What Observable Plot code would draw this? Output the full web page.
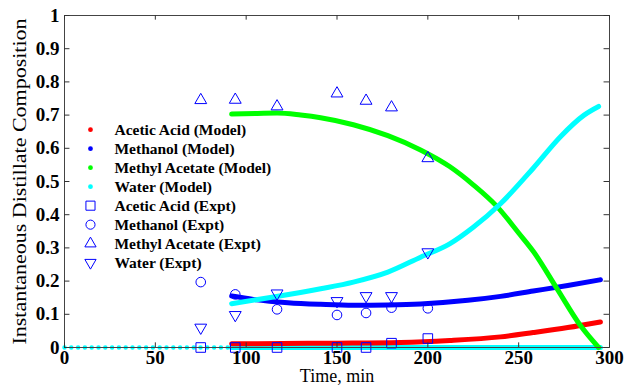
<!DOCTYPE html>
<html>
<head>
<meta charset="utf-8">
<script src="https://cdn.jsdelivr.net/npm/d3@7"></script>
<script src="https://cdn.jsdelivr.net/npm/@observablehq/plot@0.6"></script>
<style>
  html, body { margin: 0; padding: 0; background: #fff; }
  #chart { width: 625px; height: 385px; }
  #chart svg text { font-family: "Liberation Serif", "Times New Roman", serif; }
</style>
</head>
<body>
<div id="chart"></div>
<script>
// ---- Data ----
const xTicks = [0, 50, 100, 150, 200, 250, 300];
const yTicks = [0, 0.1, 0.2, 0.3, 0.4, 0.5, 0.6, 0.7, 0.8, 0.9, 1];

// Model curves (time, min / mole fraction)
const aceticModelT = [92, 120, 150, 185, 212, 240, 258, 277, 295];
const aceticModelV = [0.011, 0.012, 0.013, 0.015, 0.021, 0.032, 0.045, 0.060, 0.077];

const methanolModelT = [92, 104, 123, 141, 159, 178, 196, 222, 240, 258, 277, 295];
const methanolModelV = [0.155, 0.145, 0.135, 0.130, 0.127, 0.128, 0.131, 0.142, 0.154, 0.170, 0.187, 0.204];

const methylAcetateModelT = [92, 105, 117, 130, 141, 159, 178, 196, 212, 225, 238, 250, 258, 271, 284, 294];
const methylAcetateModelV = [0.703, 0.705, 0.706, 0.700, 0.692, 0.671, 0.638, 0.595, 0.545, 0.490, 0.425, 0.345, 0.290, 0.178, 0.066, 0.0];

const waterModelT = [92, 115, 141, 159, 178, 196, 212, 225, 240, 258, 273, 286, 294];
const waterModelV = [0.132, 0.152, 0.177, 0.197, 0.227, 0.272, 0.312, 0.362, 0.433, 0.540, 0.635, 0.700, 0.726];

// Water model trace at zero (before and during distillate draw)
const waterZeroDottedT = [0, 92];
const waterZeroDottedV = [0, 0];
const waterZeroSolidT = [92, 295];
const waterZeroSolidV = [0, 0];

// Experimental points
const exptT = [75, 94, 117, 150, 166, 180, 200];
const aceticExpt = [0, 0, 0, 0, 0, 0.013, 0.027];
const methanolExpt = [0.197, 0.160, 0.115, 0.098, 0.104, 0.120, 0.118];
const methylAcetateExpt = [0.745, 0.746, 0.726, 0.765, 0.743, 0.723, 0.570];
const waterExpt = [0.060, 0.098, 0.163, 0.140, 0.155, 0.155, 0.287];

// Legend
const modelLabels = ["Acetic Acid (Model)", "Methanol (Model)", "Methyl Acetate (Model)", "Water (Model)"];
const modelColors = ["#ff0000", "#0000ff", "#00ff00", "#00ffff"];
const exptLabels = ["Acetic Acid (Expt)", "Methanol (Expt)", "Methyl Acetate (Expt)", "Water (Expt)"];

// ---- Helpers ----
const FONT = "Liberation Serif";
const zip = (ts, vs) => ts.map((t, i) => ({t, v: vs[i]}));
const sqrt3 = Math.sqrt(3);
const triangleDown = {
  draw(context, size) {
    const y = -Math.sqrt(size / (sqrt3 * 3));
    context.moveTo(0, -y * 2);
    context.lineTo(-sqrt3 * y, y);
    context.lineTo(sqrt3 * y, y);
    context.closePath();
  }
};
const exptSymbols = ["square", "circle", "triangle", triangleDown];
const exptRadius = [5.4, 4.8, 4.4, 4.4];
const exptSeries = [aceticExpt, methanolExpt, methylAcetateExpt, waterExpt];

const lineW = 5;
const marks = [];

// cyan zero trace
marks.push(Plot.line(zip(waterZeroDottedT, waterZeroDottedV), {x: "t", y: "v", stroke: "#00ffff", strokeWidth: 4.5, strokeDasharray: "0 6.8", strokeLinecap: "round"}));
marks.push(Plot.line(zip(waterZeroSolidT, waterZeroSolidV), {x: "t", y: "v", stroke: "#00ffff", strokeWidth: lineW}));

const models = [
  [aceticModelT, aceticModelV, modelColors[0]],
  [methanolModelT, methanolModelV, modelColors[1]],
  [methylAcetateModelT, methylAcetateModelV, modelColors[2]],
  [waterModelT, waterModelV, modelColors[3]]
];
for (const [ts, vs, c] of models) {
  marks.push(Plot.line(zip(ts, vs), {x: "t", y: "v", stroke: c, strokeWidth: lineW, curve: "monotone-x"}));
}

exptSeries.forEach((vals, i) => {
  marks.push(Plot.dot(zip(exptT, vals), {x: "t", y: "v", symbol: () => exptSymbols[i], r: exptRadius[i], stroke: "#0000ff", strokeWidth: 1, fill: "none"}));
});

// Legend (inside plot, positioned in data space)
const legX = 14.3, legTextX = 27.5, legTop = 0.656, legStep = 0.0572;
const legendRows = [
  ...modelLabels.map((label, i) => ({label, i, kind: "model"})),
  ...exptLabels.map((label, i) => ({label, i: i + 4, kind: "expt", s: i}))
];
marks.push(Plot.dot(legendRows.filter(d => d.kind === "model"), {
  x: () => legX, y: d => legTop - d.i * legStep, r: 2.4, fill: d => modelColors[d.i], stroke: "none"
}));
legendRows.filter(d => d.kind === "expt").forEach(d => {
  marks.push(Plot.dot([d], {x: () => legX, y: () => legTop - d.i * legStep, symbol: () => exptSymbols[d.s], r: exptRadius[d.s] * 0.95, stroke: "#0000ff", strokeWidth: 1, fill: "none"}));
});
marks.push(Plot.text(legendRows, {
  x: () => legTextX, y: d => legTop - d.i * legStep, text: "label", textAnchor: "start",
  fontSize: 15.5, fontWeight: "bold", fill: "#000", fontFamily: FONT
}));

// frame & inward ticks
marks.push(Plot.frame({stroke: "#444", strokeWidth: 1}));
marks.push(Plot.ruleX(xTicks, {y1: 0, y2: 0.014, stroke: "#333"}));
marks.push(Plot.ruleX(xTicks, {y1: 1 - 0.014, y2: 1, stroke: "#333"}));
marks.push(Plot.ruleY(yTicks, {x1: 0, x2: 3.0, stroke: "#333"}));
marks.push(Plot.ruleY(yTicks, {x1: 300 - 3.0, x2: 300, stroke: "#333"}));

// tick labels
marks.push(Plot.axisX(xTicks, {tickSize: 0, tickPadding: 3, fontSize: 19, fontWeight: "bold", fontFamily: FONT, fill: "#000", tickFormat: d => String(d), label: null}));
marks.push(Plot.axisY(yTicks, {tickSize: 0, tickPadding: 5, fontSize: 19, fontWeight: "bold", fontFamily: FONT, fill: "#000", tickFormat: d => String(d), label: null}));

// axis titles
marks.push(Plot.text(["Time, min"], {frameAnchor: "bottom", lineAnchor: "middle", dy: 29, fontSize: 18, fontFamily: FONT, fill: "#000"}));
marks.push(Plot.text(["Instantaneous Distillate Composition"], {frameAnchor: "left", textAnchor: "middle", dx: -44, rotate: -90, fontSize: 18, fontFamily: FONT, fill: "#000"}));

const chart = Plot.plot({
  width: 625,
  height: 385,
  marginLeft: 64,
  marginRight: 16,
  marginTop: 15,
  marginBottom: 38,
  x: {domain: [0, 300], axis: null},
  y: {domain: [0, 1], axis: null},
  style: {fontFamily: FONT, color: "#000", background: "#fff", overflow: "visible"},
  marks
});
document.getElementById("chart").appendChild(chart);

// stretch the y title along its baseline to the reference's length
d3.select(chart).selectAll("text")
  .filter(function() { return this.textContent === "Instantaneous Distillate Composition"; })
  .attr("textLength", 326)
  .attr("lengthAdjust", "spacingAndGlyphs");
</script>
</body>
</html>
